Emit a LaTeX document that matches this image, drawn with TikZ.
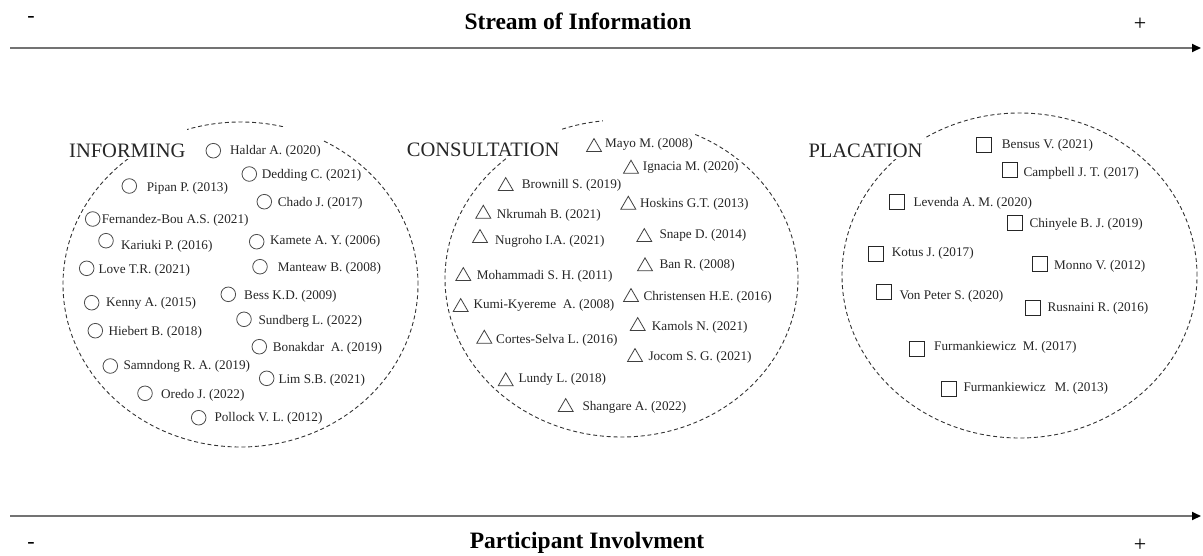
\documentclass[tikz,border=0pt]{standalone}
\usepackage{fontspec}
\setmainfont{Liberation Serif}
\usetikzlibrary{arrows.meta,shapes.geometric}

\tikzset{
  zone/.style={ellipse, draw=black!80, line width=0.9pt,
    dash pattern=on 4pt off 2.8pt, inner sep=0pt, minimum width=355pt},
  axis/.style={draw=black!55, line width=1.8pt,
    -{Triangle[length=9pt,width=8pt,color=black]}},
  title/.style={font=\fontsize{23.5}{26}\selectfont\bfseries, inner sep=0pt},
  sign/.style={font=\fontsize{22}{24}\selectfont, inner sep=0pt},
  heading/.style={font=\fontsize{20.5}{23}\selectfont, text=black!85,
    fill=white, inner xsep=2pt, inner ysep=2pt, text height=27pt, anchor=base west},
  refbox/.style={font=\fontsize{13.2}{15}\selectfont, text=black!85,
    fill=white, inner xsep=2pt, inner ysep=2pt, anchor=base west},
  circmark/.style={circle, draw=black!70, line width=0.8pt, fill=white,
    inner sep=0pt, minimum size=14.6pt},
  trimark/.style={regular polygon, regular polygon sides=3, draw=black!75,
    line width=0.8pt, fill=white, inner sep=0pt, minimum size=17.3pt, yshift=-2.2pt},
  sqmark/.style={rectangle, draw=black!85, line width=0.8pt, fill=white,
    inner sep=0pt, minimum size=15pt},
}

% \refitem{name}{mark style}{mark x}{mark y}{text x}{text y}{extra box style}{text}
\newcommand{\refitem}[8]{%
  \node[refbox,#7] (#1-txt) at (#5-2,#6+4) {#8};
  \node[#2] (#1-mark) at (#3,#4) {};
}

\begin{document}
\begin{tikzpicture}[x=1pt,y=-1pt]
\useasboundingbox (0,0) rectangle (1203,555);

% axes
\coordinate (infoStart) at (10,48);
\coordinate (infoEnd) at (1201,48);
\draw[axis] (infoStart) -- (infoEnd);
\node[title, anchor=base] (infoTitle) at (578,29) {Stream of Information};
\node[sign] (infoLess) at (31,19) {-};
\node[sign] (infoMore) at (1140,24) {+};

\coordinate (partStart) at (10,516);
\coordinate (partEnd) at (1201,516);
\draw[axis] (partStart) -- (partEnd);
\node[title, anchor=base] (partTitle) at (587,548) {Participant Involvment};
\node[sign] (partLess) at (31,545) {-};
\node[sign] (partMore) at (1140,545) {+};

% groups
\node[zone, minimum height=325pt] (informing) at (240.5,284.5) {};
\node[zone, minimum height=317pt, minimum width=353pt] (consultation) at (621.5,278.5) {};
\node[zone, minimum height=325pt] (placation) at (1019.5,275.5) {};

\node[heading] (informingLabel) at (67,157) {INFORMING};
\node[heading] (consultationLabel) at (404.7,156) {CONSULTATION};
\node[heading] (placationLabel) at (806.3,157) {PLACATION};

% informing
\refitem{haldar}{circmark}{213.3}{150.7}{230}{150.7}{text height=26pt}{Haldar A. (2020)}
\refitem{dedding}{circmark}{249.3}{174}{261.7}{174}{}{Dedding C. (2021)}
\refitem{pipan}{circmark}{129.3}{186}{146.7}{187}{}{Pipan P. (2013)}
\refitem{chado}{circmark}{264.3}{201.7}{277.7}{202}{}{Chado J. (2017)}
\refitem{fernandez}{circmark}{92.7}{219}{101.7}{219}{}{Fernandez-Bou A.S. (2021)}
\refitem{kariuki}{circmark}{106}{240.7}{121}{245}{}{Kariuki P. (2016)}
\refitem{kamete}{circmark}{256.7}{241.7}{270}{240.5}{}{Kamete A. Y. (2006)}
\refitem{love}{circmark}{86.7}{268.3}{98.3}{269}{}{Love T.R. (2021)}
\refitem{manteaw}{circmark}{260}{266.7}{277.7}{267.3}{}{Manteaw B. (2008)}
\refitem{kenny}{circmark}{91.7}{302.7}{106}{302.7}{}{Kenny A. (2015)}
\refitem{bess}{circmark}{228.3}{294.3}{244}{295.7}{}{Bess K.D. (2009)}
\refitem{sundberg}{circmark}{244}{319.3}{258.3}{320}{}{Sundberg L. (2022)}
\refitem{hiebert}{circmark}{95.3}{330.7}{108.3}{331.3}{}{Hiebert B. (2018)}
\refitem{bonakdar}{circmark}{259.3}{346.7}{272.7}{347.7}{}{Bonakdar\ \ A. (2019)}
\refitem{samndong}{circmark}{110.3}{366}{123.3}{365}{}{Samndong R. A. (2019)}
\refitem{lim}{circmark}{266.7}{378.3}{278.3}{379.3}{}{Lim S.B. (2021)}
\refitem{oredo}{circmark}{145}{393.3}{161}{394}{}{Oredo J. (2022)}
\refitem{pollock}{circmark}{198.7}{417.7}{214.3}{417.7}{}{Pollock V. L. (2012)}

% consultation
\refitem{mayo}{trimark}{594}{145}{605}{143}{text height=26pt}{Mayo M. (2008)}
\refitem{ignacia}{trimark}{631}{166.7}{642.7}{166.7}{}{Ignacia M. (2020)}
\refitem{brownill}{trimark}{505.7}{184}{521.7}{184}{}{Brownill S. (2019)}
\refitem{hoskins}{trimark}{628.3}{202.7}{640}{203}{}{Hoskins G.T. (2013)}
\refitem{nkrumah}{trimark}{483.3}{211.7}{496.7}{214}{}{Nkrumah B. (2021)}
\refitem{nugroho}{trimark}{480}{236}{495}{240}{}{Nugroho I.A. (2021)}
\refitem{snape}{trimark}{644.3}{235}{659.3}{234}{}{Snape D. (2014)}
\refitem{mohammadi}{trimark}{463.3}{274}{476.7}{275.3}{}{Mohammadi S. H. (2011)}
\refitem{ban}{trimark}{645}{264.3}{659.3}{264.3}{}{Ban R. (2008)}
\refitem{kumi}{trimark}{460.7}{305}{473.3}{304.3}{}{Kumi-Kyereme\ \ A. (2008)}
\refitem{christensen}{trimark}{631}{295}{643.3}{296}{}{Christensen H.E. (2016)}
\refitem{kamols}{trimark}{637.7}{324}{651.7}{326}{}{Kamols N. (2021)}
\refitem{cortes}{trimark}{484.3}{336.7}{496}{339.3}{}{Cortes-Selva L. (2016)}
\refitem{jocom}{trimark}{635}{355}{648.3}{356}{}{Jocom S. G. (2021)}
\refitem{lundy}{trimark}{505.7}{379.3}{518.3}{378.3}{}{Lundy L. (2018)}
\refitem{shangare}{trimark}{565.7}{405}{582.3}{406.7}{}{Shangare A. (2022)}

% placation
\refitem{bensus}{sqmark}{984.3}{145}{1001.7}{144}{}{Bensus V. (2021)}
\refitem{campbell}{sqmark}{1010}{170}{1023.3}{172.3}{}{Campbell J. T. (2017)}
\refitem{levenda}{sqmark}{897.3}{201.7}{913.3}{202.3}{}{Levenda A. M. (2020)}
\refitem{chinyele}{sqmark}{1014.7}{223.3}{1029.3}{223.3}{}{Chinyele B. J. (2019)}
\refitem{kotus}{sqmark}{876}{254}{891.7}{252.7}{}{Kotus J. (2017)}
\refitem{monno}{sqmark}{1040}{264.3}{1054}{265}{}{Monno V. (2012)}
\refitem{vonpeter}{sqmark}{884.3}{291.7}{899.3}{295.7}{}{Von Peter S. (2020)}
\refitem{rusnaini}{sqmark}{1032.7}{307.7}{1047.3}{307.7}{}{Rusnaini R. (2016)}
\refitem{furmA}{sqmark}{917.3}{348.7}{934}{346.7}{}{Furmankiewicz\ \ M. (2017)}
\refitem{furmB}{sqmark}{949}{389}{963.3}{387.7}{}{Furmankiewicz\hspace{9pt}M. (2013)}
\end{tikzpicture}
\end{document}
